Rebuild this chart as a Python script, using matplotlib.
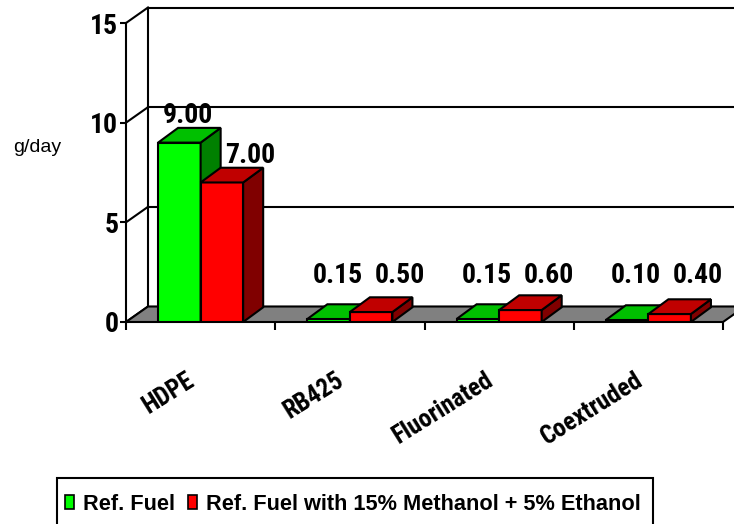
import numpy as np
import matplotlib.pyplot as plt
from matplotlib.patches import Polygon, Patch, Rectangle

categories = ["HDPE", "RB425", "Fluorinated", "Coextruded"]
ref_fuel = np.array([9.00, 0.15, 0.15, 0.10])
blend_fuel = np.array([7.00, 0.50, 0.60, 0.40])
series_names = ["Ref. Fuel", "Ref. Fuel with 15% Methanol + 5% Ethanol"]
y_ticks = [0, 5, 10, 15]

# face colours: front, top, side
green = ("#00FF00", "#00C000", "#008000")
red = ("#FF0000", "#C00000", "#800000")

plt.rcParams["font.family"] = ["Roboto Condensed", "Liberation Sans", "DejaVu Sans"]

W, H = 734, 524
fig = plt.figure(figsize=(W / 100, H / 100), dpi=100)
ax = fig.add_axes([126 / W, 1 - 322 / H, 597 / W, 299 / H])
n = len(categories)
ax.set_xlim(0, n)
ax.set_ylim(0, 15)
ax.patch.set_visible(False)

# depth of the box, pixels -> data units
dx = 22 / (ax.bbox.width / n)
dy = 15.5 / (ax.bbox.height / 15)
lw = 1.5

# back wall + side wall gridlines
for v in y_ticks:
    ax.plot([dx, n + dx], [v + dy, v + dy], color="black", lw=lw, clip_on=False, zorder=1)
    ax.plot([0, dx], [v, v + dy], color="black", lw=lw, clip_on=False, zorder=1)
ax.plot([dx, dx], [dy, 15 + dy], color="black", lw=lw, clip_on=False, zorder=1)

# floor
floor = Polygon([(0, 0), (n, 0), (n + dx, dy), (dx, dy)], closed=True,
                fc="#808080", ec="black", lw=lw, clip_on=False, zorder=2)
ax.add_patch(floor)

bar_w = 0.285
centers = np.arange(n) + 0.5


def draw_bars(x0, vals, cols, z):
    ax.bar(x0, vals, width=bar_w, align="edge", color=cols[0],
           edgecolor="black", lw=lw, zorder=z)
    bx, by = dx * 0.91, dy * 0.95
    for x, h in zip(x0, vals):
        top = Polygon([(x, h), (x + bar_w, h), (x + bar_w + bx, h + by), (x + bx, h + by)],
                      closed=True, fc=cols[1], ec="black", lw=lw, zorder=z)
        side = Polygon([(x + bar_w, 0), (x + bar_w + bx, by), (x + bar_w + bx, h + by), (x + bar_w, h)],
                       closed=True, fc=cols[2], ec="black", lw=lw, zorder=z)
        ax.add_patch(side)
        ax.add_patch(top)


draw_bars(centers - bar_w, ref_fuel, green, 3)
draw_bars(centers, blend_fuel, red, 4)

# value labels
for xs, vals, off in [(centers - bar_w / 2, ref_fuel, 0.06),
                      (centers + bar_w / 2, blend_fuel, 0.19)]:
    for x, v in zip(xs, vals):
        ax.text(x + off, max(v + 1.35, 2.35), f"{v:.2f}", ha="center", va="center",
                fontsize=20, fontweight="bold", zorder=6, clip_on=False)

# category labels
for c, name in zip(centers, categories):
    ax.annotate(name, xy=(c, 0), xytext=(-8, -56), textcoords="offset pixels",
                rotation=32, ha="right", va="center", rotation_mode="anchor",
                fontsize=18, fontweight="bold")

# axes
for s in ["top", "right", "bottom"]:
    ax.spines[s].set_visible(False)
ax.spines["left"].set_linewidth(lw)
ax.spines["left"].set_zorder(5)
ax.set_yticks(y_ticks)
ax.set_yticklabels([str(t) for t in y_ticks], fontsize=20, fontweight="bold")
ax.tick_params(axis="y", length=4, width=lw, pad=1.5)
ax.set_xticks(np.arange(n + 1))
ax.set_xticklabels([])
ax.tick_params(axis="x", length=6, width=lw)

fig.text(13 / W, 1 - 147 / H, "g/day", fontsize=14, family="Liberation Sans",
         va="center")

# legend: entries without frame, box drawn separately (runs off the bottom edge)
handles = [Patch(fc=green[0], ec="black", lw=1.2), Patch(fc=red[0], ec="black", lw=1.2)]
fig.legend(handles, series_names, loc="center left",
           bbox_to_anchor=(65 / W, 1 - 504 / H), ncol=2, frameon=False,
           prop={"family": "Liberation Sans", "weight": "bold", "size": 15.7},
           handlelength=0.42, handleheight=0.65, handletextpad=0.4,
           columnspacing=0.6, borderpad=0, borderaxespad=0)
fig.add_artist(Rectangle((57 / W, -0.02), 596 / W, 1 - 478 / H + 0.02,
                         transform=fig.transFigure, fill=False, ec="black", lw=lw))

fig.savefig("out.png", dpi=100)
